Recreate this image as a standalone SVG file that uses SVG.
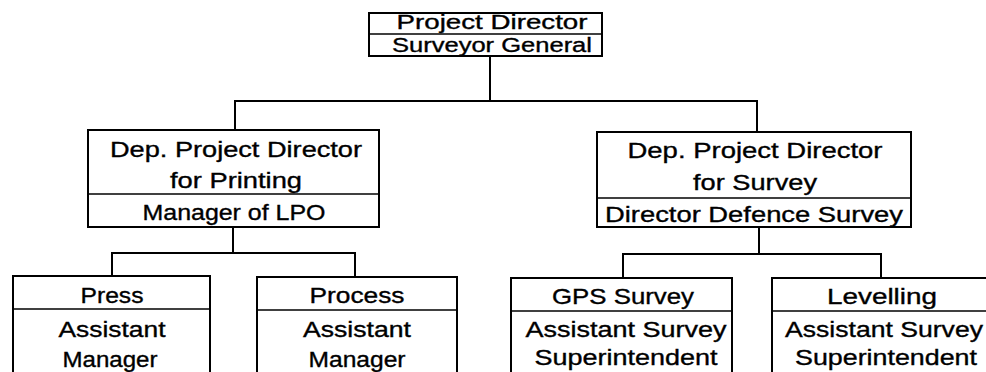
<svg xmlns="http://www.w3.org/2000/svg" width="986" height="372" viewBox="0 0 986 372">
<style>
.box{fill:none;stroke:#000;stroke-width:2}
.div{stroke:#000;stroke-width:1.5}
.c{fill:none;stroke:#000;stroke-width:2}
text{font-family:"Liberation Sans",Arial,sans-serif;font-size:22px;fill:#000;stroke:#000;stroke-width:0.35;text-anchor:middle}
.sm{font-size:20px}
</style>
<rect width="986" height="372" fill="#fff"/>
<g id="connectors">
<path class="c" d="M490 56V101M235 130V101H757V132"/>
<path class="c" d="M233 227V253M112 276V253H355V277"/>
<path class="c" d="M759 227V254M623 278V254H881V278"/>
</g>
<g id="project-director">
<rect class="box" x="369" y="13" width="233" height="43"/>
<line class="div" x1="369" y1="34" x2="602" y2="34"/>
<text class="sm" x="492" y="29" textLength="191" lengthAdjust="spacingAndGlyphs">Project Director</text>
<text class="sm" x="492" y="52" textLength="200" lengthAdjust="spacingAndGlyphs">Surveyor General</text>
</g>
<g id="dep-printing">
<rect class="box" x="88" y="130" width="291" height="97"/>
<line class="div" x1="88" y1="194" x2="379" y2="194"/>
<text x="236" y="157" textLength="252" lengthAdjust="spacingAndGlyphs">Dep. Project Director</text>
<text x="236" y="188" textLength="132" lengthAdjust="spacingAndGlyphs">for Printing</text>
<text x="234" y="220" textLength="183" lengthAdjust="spacingAndGlyphs">Manager of LPO</text>
</g>
<g id="dep-survey">
<rect class="box" x="597" y="132" width="314" height="95"/>
<line class="div" x1="597" y1="198" x2="911" y2="198"/>
<text x="755" y="158" textLength="255" lengthAdjust="spacingAndGlyphs">Dep. Project Director</text>
<text x="755" y="190" textLength="124" lengthAdjust="spacingAndGlyphs">for Survey</text>
<text x="754" y="222" textLength="298" lengthAdjust="spacingAndGlyphs">Director Defence Survey</text>
</g>
<g id="press">
<rect class="box" x="13" y="276" width="197" height="110"/>
<line class="div" x1="13" y1="309" x2="210" y2="309"/>
<text x="112" y="303" textLength="63" lengthAdjust="spacingAndGlyphs">Press</text>
<text x="112" y="337" textLength="107" lengthAdjust="spacingAndGlyphs">Assistant</text>
<text x="110" y="367" textLength="95" lengthAdjust="spacingAndGlyphs">Manager</text>
</g>
<g id="process">
<rect class="box" x="257" y="277" width="200" height="110"/>
<line class="div" x1="257" y1="310" x2="457" y2="310"/>
<text x="357" y="303" textLength="95" lengthAdjust="spacingAndGlyphs">Process</text>
<text x="357" y="337" textLength="108" lengthAdjust="spacingAndGlyphs">Assistant</text>
<text x="357" y="367" textLength="97" lengthAdjust="spacingAndGlyphs">Manager</text>
</g>
<g id="gps-survey">
<rect class="box" x="511" y="278" width="221" height="110"/>
<line class="div" x1="511" y1="311" x2="732" y2="311"/>
<text x="623" y="304" textLength="142" lengthAdjust="spacingAndGlyphs">GPS Survey</text>
<text x="626" y="337" textLength="201" lengthAdjust="spacingAndGlyphs">Assistant Survey</text>
<text x="626" y="365" textLength="183" lengthAdjust="spacingAndGlyphs">Superintendent</text>
</g>
<g id="levelling">
<rect class="box" x="772" y="278" width="226" height="110"/>
<line class="div" x1="772" y1="311" x2="998" y2="311"/>
<text x="882" y="304" textLength="110" lengthAdjust="spacingAndGlyphs">Levelling</text>
<text x="884" y="337" textLength="198" lengthAdjust="spacingAndGlyphs">Assistant Survey</text>
<text x="886" y="365" textLength="182" lengthAdjust="spacingAndGlyphs">Superintendent</text>
</g>
</svg>
